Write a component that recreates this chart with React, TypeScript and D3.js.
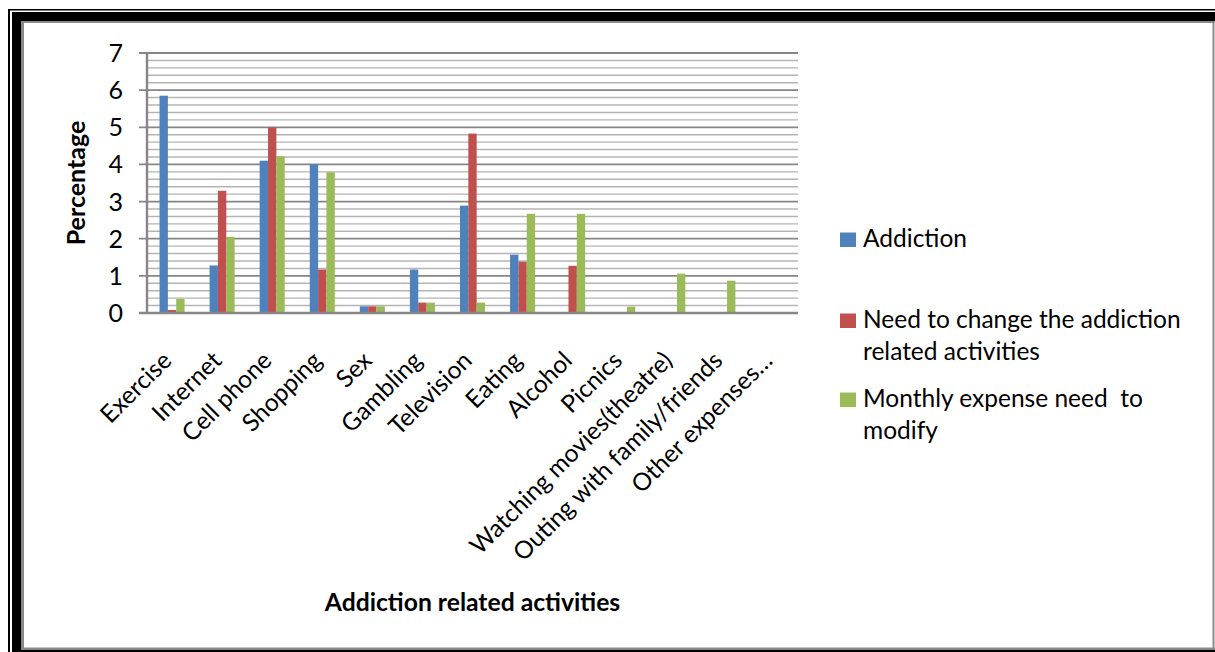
import React from "react";
import * as d3 from "d3";

const categories = [
  "Exercise",
  "Internet",
  "Cell phone",
  "Shopping",
  "Sex",
  "Gambling",
  "Television",
  "Eating",
  "Alcohol",
  "Picnics",
  "Watching movies(theatre)",
  "Outing with family/friends",
  "Other expenses…",
];

const seriesNames = [
  "Addiction",
  "Need to change the addiction related activities",
  "Monthly expense need  to modify",
];

const legendLines = [
  ["Addiction"],
  ["Need to change the addiction", "related activities"],
  ["Monthly expense need  to", "modify"],
];

const addiction = [5.85, 1.28, 4.1, 4.0, 0.18, 1.17, 2.89, 1.57, 0, 0, 0, 0, 0];
const needChange = [0.08, 3.29, 5.0, 1.17, 0.18, 0.28, 4.83, 1.38, 1.27, 0, 0, 0, 0];
const monthlyExpense = [0.38, 2.05, 4.22, 3.79, 0.18, 0.28, 0.28, 2.67, 2.67, 0.17, 1.06, 0.87, 0];

const yTicks = [0, 1, 2, 3, 4, 5, 6, 7];

const colors = ["#4F81BD", "#C0504D", "#9BBB59"];

const W = 1215;
const H = 652;
const FONT = "Lato, 'Noto Sans', sans-serif";

export default function App() {
  const values = [addiction, needChange, monthlyExpense];
  const plotLeft = 147;
  const plotRight = 798;
  const plotTop = 53;
  const plotBottom = 313;

  const x = d3.scaleBand<string>().domain(categories).range([plotLeft, plotRight]).padding(0);
  const y = d3.scaleLinear().domain([0, 7]).range([plotBottom, plotTop]);
  const inner = d3
    .scaleBand<string>()
    .domain(seriesNames)
    .range([-x.bandwidth() / 4, x.bandwidth() / 4])
    .padding(0);

  const minorTicks = d3.range(0, 35).map((i) => i / 5).filter((v) => Math.abs(v - Math.round(v)) > 1e-6);
  const majorTicks = yTicks.filter((v) => v > 0);

  return (
    <svg
      width={W}
      height={H}
      style={{ position: "absolute", left: 0, top: 0, display: "block", background: "#fff" }}
      fontFamily={FONT}
    >
      {/* frame */}
      <rect x={0} y={0} width={W} height={H} fill="#fff" />
      <rect x={8} y={9} width={W - 8} height={1.5} fill="#000" />
      <rect x={8} y={9} width={2} height={H - 9} fill="#000" />
      <rect x={12} y={12} width={W - 12} height={9} fill="#000" />
      <rect x={12} y={12} width={9} height={H - 12} fill="#000" />
      <rect x={12} y={649.5} width={W - 12} height={2.5} fill="#000" />
      <rect x={21} y={21} width={W - 21} height={2} fill="#8a8a8a" />
      <rect x={21} y={21} width={3} height={628} fill="#8a8a8a" />
      <rect x={21} y={647.5} width={W - 21} height={2} fill="#8a8a8a" />
      <rect x={1212.5} y={21} width={2} height={628} fill="#8a8a8a" />

      {/* minor gridlines */}
      {minorTicks.map((v) => (
        <line
          key={"mn" + v}
          x1={plotLeft}
          x2={plotRight}
          y1={y(v)}
          y2={y(v)}
          stroke="#b4b4b4"
          strokeWidth={1.4}
        />
      ))}
      {/* major gridlines and ticks */}
      {majorTicks.map((v) => (
        <line
          key={"mj" + v}
          x1={139}
          x2={plotRight}
          y1={y(v)}
          y2={y(v)}
          stroke="#868686"
          strokeWidth={1.8}
        />
      ))}

      {/* bars */}
      {values.map((vals, si) =>
        vals.map((v, ci) =>
          v > 0 ? (
            <rect
              key={si + "-" + ci}
              x={(x(categories[ci]) as number) + x.bandwidth() / 2 + (inner(seriesNames[si]) as number)}
              y={y(v)}
              width={inner.bandwidth()}
              height={y(0) - y(v)}
              fill={colors[si]}
            />
          ) : null
        )
      )}

      {/* axes */}
      <line x1={plotLeft} x2={plotLeft} y1={plotTop} y2={plotBottom + 1} stroke="#868686" strokeWidth={2.4} />
      <line x1={139} x2={plotRight} y1={y(0)} y2={y(0)} stroke="#868686" strokeWidth={2.4} />

      {/* y tick labels */}
      {yTicks.map((v) => (
        <text key={"yt" + v} x={123} y={y(v)} dy="0.36em" textAnchor="end" fontSize={25} fill="#000">
          {v}
        </text>
      ))}

      {/* x tick labels */}
      {categories.map((c) => {
        const cx = (x(c) as number) + x.bandwidth() / 2;
        return (
          <text
            key={"xt" + c}
            transform={`translate(${cx + 1},${362}) rotate(-45)`}
            textAnchor="end"
            fontSize={24.5}
            fill="#000"
          >
            {c}
          </text>
        );
      })}

      {/* axis titles */}
      <text
        transform={`translate(${85},${(plotTop + plotBottom) / 2}) rotate(-90)`}
        textAnchor="middle"
        fontSize={25}
        fontWeight="bold"
        fill="#000"
      >
        Percentage
      </text>
      <text x={(plotLeft + plotRight) / 2} y={611} textAnchor="middle" fontSize={24.7} fontWeight="bold" fill="#000">
        Addiction related activities
      </text>

      {/* legend */}
      {legendLines.map((lines, i) => {
        const baselines = [247, 328, 407];
        const b = baselines[i];
        return (
          <g key={"lg" + i}>
            <rect x={840} y={b - 14.5} width={16} height={14.5} fill={colors[i]} />
            {lines.map((t, li) => (
              <text key={li} x={863} y={b + li * 32} fontSize={24.5} fill="#000" style={{ whiteSpace: "pre" }}>
                {t}
              </text>
            ))}
          </g>
        );
      })}
    </svg>
  );
}
